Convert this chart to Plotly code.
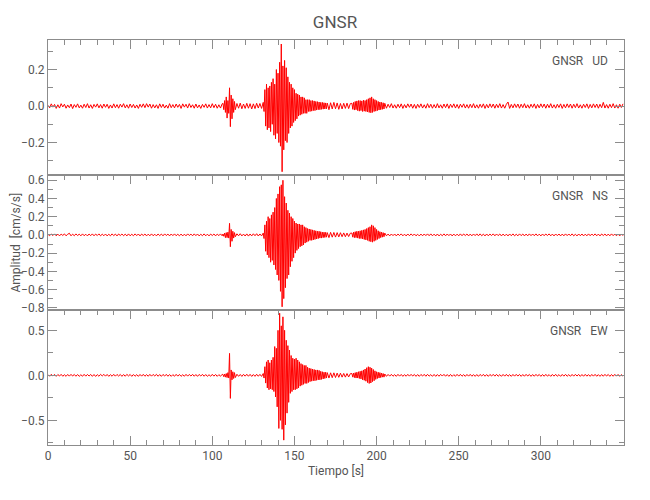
import plotly.graph_objects as go

# ---------------- data (amplitudes in cm/s/s) ----------------
# sampling segments shared by all three components: start time [s] and step [s]
seg_start = [0, 106.5, 115, 131.5, 171, 185, 206]
seg_step = [1, 0.5, 1, 0.5, 1, 0.5, 1]

ud_quiet1 = [0.004,-0.010,0.012,-0.006,0.009,-0.013,0.007,-0.011,0.013,-0.005,
             0.010,-0.012,0.006,-0.009,0.011,-0.014,0.008,-0.007,0.012,-0.010,
             0.005,-0.012,0.010,-0.008,0.013,-0.011,0.007,-0.013,0.009,-0.006,
             0.012,-0.010,0.008,-0.012,0.011,-0.007,0.010,-0.013,0.006,-0.011,
             0.012,-0.009,0.008,-0.012,0.010,-0.006,0.013,-0.010,0.007,-0.012,
             0.011,-0.008,0.009,-0.011,0.006,-0.013,0.010,-0.007,0.012,-0.009,
             0.013,-0.006,0.011,-0.012,0.008,-0.010,0.007,-0.013,0.012,-0.008,
             0.010,-0.011,0.005,-0.012,0.013,-0.009,0.008,-0.010,0.011,-0.007,
             0.009,-0.013,0.012,-0.006,0.010,-0.011,0.013,-0.008,0.007,-0.012,
             0.011,-0.010,0.006,-0.013,0.009,-0.007,0.012,-0.011,0.008,-0.010,
             0.013,-0.009,0.010,-0.012,0.007,-0.011,0.012]
ud_p = [0.015,-0.02,0.03,-0.035,0.05,-0.066,0.03,-0.04,0.10,-0.113,0.06,-0.07,0.04,-0.035,0.025,-0.02]
ud_quiet2 = [0.014,-0.012,0.016,-0.015,0.011,-0.013,0.015,-0.012,0.013,-0.016,0.012,-0.014,0.015,-0.011,0.014,-0.013,0.02]
ud_s = [-0.03,0.09,-0.11,0.12,-0.13,0.10,-0.12,0.11,-0.14,0.13,-0.10,0.15,-0.16,0.12,-0.18,0.20,-0.15,0.18,-0.20,0.24,-0.22,0.34,-0.36,0.22,-0.24,0.25,-0.19,0.21,-0.20,0.16,-0.15,0.13,-0.12,0.12,-0.11,0.10,-0.09,0.09,-0.08,0.07,-0.07,0.065,-0.055,0.06,-0.05,0.05,-0.045,0.05,-0.04,0.045,-0.04,0.035,-0.04,0.035,-0.03,0.035,-0.03,0.03,-0.028,0.03,-0.025,0.028,-0.025,0.025,-0.022,0.024,-0.02,0.022,-0.02,0.02,-0.018,0.02,-0.017,0.018,-0.016,0.017,-0.015,0.016]
ud_coda = [-0.02,0.018,-0.016,0.02,-0.015,0.017,-0.018,0.014,-0.016,0.015,-0.013,0.016,-0.014,0.013]
ud_bump = [0.015,-0.018,0.02,-0.022,0.025,-0.02,0.028,-0.025,0.03,-0.028,0.03,-0.025,0.028,-0.03,0.032,-0.028,0.03,-0.03,0.035,-0.032,0.04,-0.035,0.045,-0.037,0.05,-0.035,0.04,-0.03,0.035,-0.028,0.03,-0.025,0.025,-0.022,0.022,-0.02,0.02,-0.018,0.018,-0.016,0.015]
ud_quiet3 = [-0.012,0.010,-0.008,0.013,-0.011,0.007,-0.012,0.010,-0.009,0.012,
             -0.013,0.008,-0.010,0.012,-0.007,0.011,-0.012,0.009,-0.013,0.010,
             -0.008,0.012,-0.011,0.007,-0.012,0.013,-0.009,0.010,-0.012,0.008,
             -0.011,0.013,-0.010,0.007,-0.012,0.011,-0.009,0.012,-0.013,0.010,
             -0.008,0.012,-0.011,0.009,-0.013,0.010,-0.007,0.012,-0.011,0.008,
             -0.012,0.010,-0.009,0.013,-0.011,0.007,-0.012,0.010,-0.008,0.012,
             -0.013,0.009,-0.010,0.012,-0.008,0.011,-0.012,0.010,-0.009,0.013,
             -0.011,0.008,-0.012,0.010,0.022,-0.013,0.009,-0.010,0.012,-0.008,
             0.011,-0.012,0.010,-0.009,0.013,-0.011,0.007,-0.012,0.010,-0.008,
             0.012,-0.013,0.009,-0.010,0.012,-0.008,0.011,-0.012,0.010,-0.009,
             0.013,-0.011,0.007,-0.012,0.010,-0.008,0.012,-0.013,0.009,-0.010,
             0.012,-0.008,0.011,-0.012,0.010,-0.009,0.013,-0.011,0.007,-0.012,
             0.010,-0.008,0.012,-0.013,0.009,-0.010,0.012,-0.008,0.011,-0.012,
             0.010,-0.009,0.020,-0.011,0.008,-0.012,0.010,-0.009,0.013,-0.011,
             0.007,-0.012,0.010,-0.008,0.012]

ns_quiet1 = [0.006,-0.009,0.010,-0.007,0.011,-0.010,0.008,-0.011,0.009,-0.006,
             0.011,-0.010,0.007,0.018,-0.010,0.008,-0.009,0.011,-0.007,0.008,
             -0.010,0.011,-0.009,0.007,-0.011,0.010,-0.008,0.011,-0.010,0.009,
             -0.007,0.011,-0.010,0.008,-0.009,0.010,-0.011,0.007,-0.010,0.011,
             -0.008,0.009,-0.011,0.010,-0.007,0.010,-0.009,0.008,-0.011,0.011,
             -0.010,0.007,-0.009,0.011,-0.008,0.010,-0.011,0.009,-0.007,0.010,
             -0.011,0.008,-0.010,0.011,-0.009,0.007,-0.011,0.010,-0.008,0.009,
             -0.010,0.011,-0.007,0.009,-0.011,0.010,-0.008,0.011,-0.009,0.007,
             -0.010,0.009,-0.011,0.008,-0.010,0.011,-0.007,0.009,-0.010,0.011,
             -0.008,0.010,-0.011,0.007,-0.009,0.011,-0.010,0.008,-0.011,0.009,
             -0.007,0.010,-0.011,0.009,-0.008,0.011,-0.010]
ns_p = [0.01,-0.015,0.02,-0.03,0.025,-0.03,0.03,-0.035,0.127,-0.13,0.06,-0.07,0.04,-0.035,0.025,-0.02]
ns_quiet2 = [0.012,-0.010,0.013,-0.011,0.009,-0.012,0.011,-0.013,0.010,-0.011,0.012,-0.009,0.013,-0.012,0.010,-0.011,0.02]
ns_s = [-0.04,0.11,-0.18,0.15,-0.22,0.20,-0.25,0.18,-0.30,0.22,-0.28,0.25,-0.33,0.30,-0.38,0.40,-0.44,0.45,-0.50,0.53,-0.62,0.55,-0.79,0.60,-0.70,0.42,-0.58,0.35,-0.48,0.27,-0.44,0.24,-0.35,0.20,-0.29,0.18,-0.25,0.15,-0.20,0.13,-0.17,0.12,-0.15,0.12,-0.13,0.11,-0.12,0.11,-0.11,0.09,-0.09,0.08,-0.08,0.07,-0.07,0.065,-0.06,0.06,-0.06,0.055,-0.055,0.05,-0.05,0.045,-0.045,0.04,-0.04,0.04,-0.035,0.035,-0.035,0.03,-0.03,0.03,-0.028,0.028,-0.025,0.025]
ns_coda = [-0.03,0.028,-0.025,0.027,-0.024,0.025,-0.022,0.024,-0.02,0.022,-0.02,0.02,-0.018,0.018]
ns_bump = [0.02,-0.025,0.03,-0.03,0.035,-0.03,0.04,-0.035,0.04,-0.04,0.045,-0.04,0.05,-0.045,0.055,-0.05,0.06,-0.055,0.07,-0.06,0.08,-0.07,0.09,-0.075,0.11,-0.08,0.10,-0.07,0.08,-0.06,0.06,-0.05,0.045,-0.04,0.035,-0.03,0.03,-0.025,0.025,-0.02,0.02]
ns_quiet3 = [-0.010,0.009,-0.011,0.010,-0.008,0.010,-0.011,0.009,-0.007,0.011,
             -0.010,0.008,-0.011,0.010,-0.009,0.011,-0.008,0.010,-0.010,0.007,
             -0.011,0.009,-0.010,0.010,-0.008,0.011,-0.009,0.011,-0.010,0.008,
             -0.011,0.010,-0.011,0.007,-0.009,0.011,-0.010,0.010,-0.008,0.010,
             -0.011,0.009,-0.010,0.008,-0.010,0.011,-0.009,0.010,-0.007,0.010,
             -0.011,0.009,-0.010,0.010,-0.008,0.011,-0.010,0.011,-0.009,0.008,
             -0.011,0.010,-0.010,0.009,-0.007,0.011,-0.010,0.010,-0.008,0.010,
             -0.011,0.009,-0.010,0.008,-0.011,0.010,-0.009,0.011,-0.010,0.007,
             -0.010,0.011,-0.008,0.010,-0.011,0.009,-0.010,0.011,-0.008,0.010,
             -0.009,0.011,-0.010,0.008,-0.011,0.010,-0.009,0.010,-0.007,0.011,
             -0.010,0.009,-0.011,0.010,-0.008,0.010,-0.011,0.009,-0.010,0.011,
             -0.008,0.010,-0.009,0.011,-0.010,0.007,-0.011,0.010,-0.009,0.010,
             -0.011,0.008,-0.010,0.011,-0.009,0.010,-0.008,0.011,-0.010,0.009,
             -0.011,0.010,-0.007,0.010,-0.011,0.009,-0.010,0.011,-0.008,0.010,
             -0.010,0.009,-0.011,0.010,-0.009]

ew_quiet1 = [0.008,-0.010,0.011,-0.007,0.010,-0.011,0.009,-0.008,0.011,-0.010,
             0.007,-0.011,0.010,-0.009,0.011,-0.008,0.010,-0.010,0.009,-0.011,
             0.007,-0.010,0.011,-0.009,0.010,-0.008,0.010,-0.011,0.009,-0.012,
             0.008,-0.010,0.011,-0.007,0.011,-0.009,0.010,-0.011,0.008,-0.010,
             0.011,-0.009,0.010,-0.008,0.010,-0.011,0.009,-0.010,0.011,-0.007,
             0.010,-0.011,0.009,-0.010,0.008,-0.011,0.010,-0.009,0.011,-0.010,
             0.008,-0.010,0.011,-0.009,0.010,-0.007,0.011,-0.010,0.009,-0.011,
             0.010,-0.008,0.011,-0.010,0.009,-0.011,0.008,-0.010,0.011,-0.009,
             0.010,-0.011,0.007,-0.010,0.011,-0.009,0.010,-0.008,0.011,-0.010,
             0.009,-0.011,0.010,-0.008,0.011,-0.010,0.009,-0.011,0.007,-0.010,
             0.011,-0.009,0.010,-0.011,0.008,-0.010,0.011]
ew_p = [0.01,-0.015,0.015,-0.02,0.02,-0.025,0.03,-0.03,0.244,-0.256,0.06,-0.05,0.04,-0.035,0.03,-0.025]
ew_quiet2 = [0.012,-0.011,0.010,-0.012,0.011,-0.009,0.012,-0.010,0.011,-0.012,0.009,-0.011,0.012,-0.010,0.011,-0.012,0.02]
ew_s = [-0.03,0.096,-0.086,0.15,-0.14,0.17,-0.16,0.14,-0.15,0.17,-0.16,0.20,-0.18,0.32,-0.24,0.30,-0.35,0.50,-0.59,0.69,-0.50,0.55,-0.60,0.65,-0.72,0.50,-0.55,0.39,-0.42,0.33,-0.30,0.28,-0.20,0.22,-0.18,0.19,-0.16,0.18,-0.16,0.19,-0.15,0.17,-0.14,0.15,-0.12,0.13,-0.11,0.12,-0.10,0.11,-0.09,0.11,-0.09,0.09,-0.08,0.08,-0.07,0.075,-0.065,0.07,-0.06,0.065,-0.06,0.06,-0.055,0.06,-0.05,0.055,-0.05,0.045,-0.045,0.04,-0.04,0.035,-0.035,0.035,-0.03,0.03]
ew_coda = [-0.03,0.028,-0.026,0.028,-0.024,0.025,-0.022,0.024,-0.02,0.021,-0.02,0.02,-0.018,0.018]
ew_bump = [0.02,-0.02,0.025,-0.025,0.03,-0.03,0.035,-0.03,0.04,-0.035,0.045,-0.04,0.05,-0.05,0.06,-0.055,0.07,-0.065,0.085,-0.08,0.096,-0.09,0.09,-0.085,0.08,-0.07,0.065,-0.06,0.05,-0.045,0.04,-0.035,0.035,-0.03,0.03,-0.025,0.025,-0.02,0.02,-0.02,0.015]
ew_quiet3 = [-0.011,0.010,-0.009,0.011,-0.010,0.008,-0.011,0.011,-0.009,0.010,
             -0.011,0.008,-0.010,0.011,-0.009,0.011,-0.008,0.010,-0.011,0.009,
             -0.011,0.010,-0.008,0.011,-0.010,0.011,-0.009,0.008,-0.011,0.010,
             -0.011,0.009,-0.010,0.011,-0.008,0.011,-0.010,0.009,-0.011,0.010,
             -0.011,0.008,-0.010,0.011,-0.009,0.011,-0.010,0.008,-0.011,0.010,
             -0.009,0.011,-0.010,0.008,-0.011,0.009,-0.011,0.010,-0.008,0.011,
             -0.010,0.009,-0.011,0.010,-0.008,0.011,-0.009,0.011,-0.010,0.008,
             -0.011,0.010,-0.009,0.011,-0.010,0.008,-0.011,0.010,-0.009,0.011,
             -0.008,0.010,-0.011,0.009,-0.010,0.011,-0.008,0.010,-0.011,0.009,
             -0.010,0.011,-0.008,0.010,-0.011,0.009,-0.010,0.011,-0.009,0.008,
             -0.011,0.010,-0.009,0.011,-0.010,0.008,-0.011,0.010,-0.009,0.011,
             -0.010,0.008,-0.011,0.010,-0.009,0.011,-0.008,0.010,-0.011,0.009,
             -0.010,0.011,-0.009,0.008,-0.011,0.010,-0.009,0.011,-0.010,0.008,
             -0.011,0.009,-0.010,0.011,-0.008,0.010,-0.011,0.009,-0.010,0.011,
             -0.009,0.010,-0.011,0.008,-0.010]

components = ["UD", "NS", "EW"]
station = "GNSR"
x_ticks = [0, 50, 100, 150, 200, 250, 300]
x_max = 350.6
y_ranges = [[-0.378, 0.362], [-0.825, 0.658], [-0.774, 0.726]]
y_dticks = [0.2, 0.2, 0.5]
y_minor = [0.1, 0.1, 0.25]

series = {
    "UD": [ud_quiet1, ud_p, ud_quiet2, ud_s, ud_coda, ud_bump, ud_quiet3],
    "NS": [ns_quiet1, ns_p, ns_quiet2, ns_s, ns_coda, ns_bump, ns_quiet3],
    "EW": [ew_quiet1, ew_p, ew_quiet2, ew_s, ew_coda, ew_bump, ew_quiet3],
}


def assemble(segments):
    t, a = [], []
    for t0, dt, vals in zip(seg_start, seg_step, segments):
        for i, v in enumerate(vals):
            t.append(t0 + dt * i)
            a.append(v)
    return t, a


FONT = "Roboto, Liberation Sans, sans-serif"
TXT = "#555555"
AX = "#8c8c8c"

fig = go.Figure()
dom = [[2 / 3, 1.0], [1 / 3, 2 / 3], [0.0, 1 / 3]]

for i, comp in enumerate(components):
    n = "" if i == 0 else str(i + 1)
    t, a = assemble(series[comp])
    fig.add_trace(go.Scatter(x=t, y=a, mode="lines", xaxis="x" + n, yaxis="y" + n,
                             line=dict(color="#ff0000", width=1), showlegend=False,
                             hoverinfo="skip"))
    last = i == 2
    xa = dict(range=[0, x_max], domain=[0, 1], anchor="y" + n, automargin=False,
              showgrid=False, zeroline=False, showline=True, linecolor=AX, linewidth=1,
              ticks="inside", ticklen=9, tickcolor=AX, tickwidth=1,
              tickmode="array", tickvals=x_ticks,
              minor=dict(ticks="inside", ticklen=5, tickcolor=AX, tickmode="linear",
                         tick0=0, dtick=10),
              tickfont=dict(family=FONT, size=12, color=TXT))
    if last:
        xa.update(side="bottom", mirror="ticks", showticklabels=True,
                  title=dict(text="Tiempo [s]", font=dict(family=FONT, size=12, color=TXT),
                             standoff=4))
    else:
        xa.update(side="top", mirror=True, showticklabels=False, matches="x3")
    ya = dict(range=y_ranges[i], domain=dom[i], anchor="x" + n, automargin=False,
              showgrid=False, zeroline=False, showline=True, linecolor=AX, linewidth=1,
              mirror="ticks", ticks="inside", ticklen=9, tickcolor=AX, tickwidth=1,
              tick0=0, dtick=y_dticks[i], tickformat=".1f",
              minor=dict(ticks="inside", ticklen=5, tickcolor=AX, tick0=0, dtick=y_minor[i]),
              tickfont=dict(family=FONT, size=12, color=TXT))
    fig.update_layout(**{"xaxis" + n: xa, "yaxis" + n: ya})
    fig.add_annotation(text=station + "\u00a0\u00a0\u00a0" + comp,
                       xref="x" + n + " domain", yref="y" + n + " domain",
                       x=0.975, y=1 - 21 / 135, xanchor="right", yanchor="middle",
                       showarrow=False, font=dict(family=FONT, size=12, color=TXT))

# y-axis title, centred on the middle panel
fig.add_annotation(text="Amplitud  [cm/s/s]", xref="paper", yref="paper",
                   x=(7 - 40) / 576, y=0.5, xanchor="center", yanchor="middle",
                   textangle=-90, showarrow=False, font=dict(family=FONT, size=12, color=TXT))

# the page puts the figure 8 px in from the top-left corner; margins compensate
fig.update_layout(
    width=650, height=500,
    margin=dict(l=40, r=34, t=32, b=63, autoexpand=False),
    paper_bgcolor="white", plot_bgcolor="white",
    title=dict(text=station, x=327 / 650, xanchor="center", y=1 - 14 / 500, yanchor="middle",
               font=dict(family=FONT, size=17, color=TXT)),
)

fig.write_html("out.html")
